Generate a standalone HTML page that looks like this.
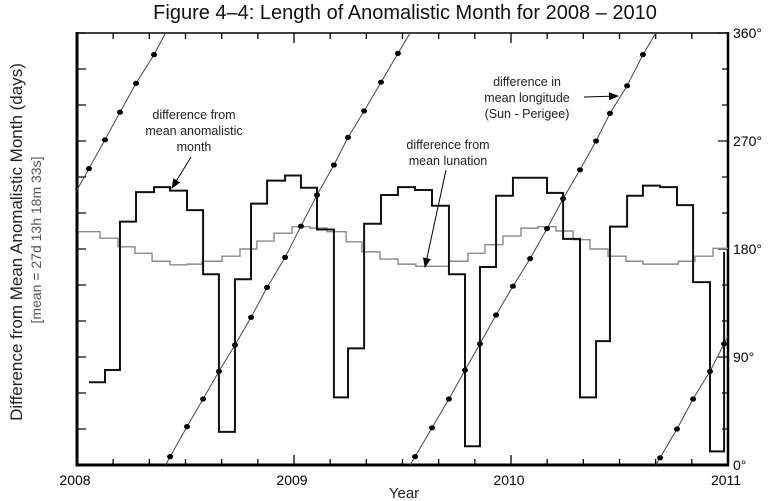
<!DOCTYPE html>
<html><head><meta charset="utf-8"><style>
html,body{margin:0;padding:0;background:#fff;}
svg{display:block;font-family:"Liberation Sans",Arial,sans-serif;}
</style></head><body>
<svg id="chart" width="768" height="501" viewBox="0 0 768 501" xmlns="http://www.w3.org/2000/svg">
<defs><marker id="ah" markerWidth="10" markerHeight="8" refX="9" refY="4" orient="auto" markerUnits="userSpaceOnUse"><path d="M0,0 L10,4 L0,8 Z" fill="#000"/></marker></defs>
<text x="405" y="19" font-size="20" text-anchor="middle" fill="#111">Figure 4–4: Length of  Anomalistic Month for 2008 – 2010</text>
<text transform="translate(22,242) rotate(-90)" font-size="17" text-anchor="middle" fill="#222">Difference from Mean Anomalistic Month (days)</text>
<text transform="translate(41,240) rotate(-90)" font-size="14" text-anchor="middle" fill="#555">[mean = 27d 13h 18m 33s]</text>
<text x="404" y="498" font-size="15" text-anchor="middle" fill="#222">Year</text>
<g id="axes"></g>
<g id="series"></g>
<g font-size="12.5" fill="#222" text-anchor="middle">
<text x="194" y="119">difference from<tspan x="194" dy="16">mean anomalistic</tspan><tspan x="194" dy="16">month</tspan></text>
<line x1="191" y1="157" x2="172" y2="188" stroke="#000" stroke-width="1" marker-end="url(#ah)"/>
<text x="448" y="149">difference from<tspan x="448" dy="16">mean lunation</tspan></text>
<line x1="446" y1="170" x2="425" y2="267" stroke="#000" stroke-width="1" marker-end="url(#ah)"/>
<text x="527" y="86">difference in<tspan x="527" dy="16">mean longitude</tspan><tspan x="527" dy="16">(Sun - Perigee)</tspan></text>
<line x1="584" y1="97" x2="618" y2="96" stroke="#000" stroke-width="1" marker-end="url(#ah)"/>
</g>
</svg>
<script>
const yearTicks = [2008, 2009, 2010, 2011];
const degTicks = ["0°", "90°", "180°", "270°", "360°"];
// black step series: difference from mean anomalistic month (days)
const anomEdges = [2008.055,2008.129,2008.198,2008.272,2008.355,2008.429,2008.507,2008.581,2008.654,2008.728,2008.802,2008.876,2008.959,2009.032,2009.106,2009.184,2009.249,2009.323,2009.401,2009.479,2009.558,2009.636,2009.714,2009.788,2009.857,2009.931,2010.009,2010.088,2010.166,2010.240,2010.318,2010.392,2010.456,2010.535,2010.608,2010.687,2010.765,2010.839,2010.917,2010.982];
const anomValues = [-1.85,-1.68,0.38,0.79,0.86,0.81,0.54,-0.35,-2.54,-0.42,0.63,0.95,1.02,0.85,0.27,-2.06,-1.38,0.35,0.75,0.86,0.82,0.60,-0.35,-2.74,-0.25,0.74,0.99,0.99,0.78,0.14,-2.06,-1.28,0.31,0.74,0.88,0.86,0.61,-0.46,-2.81];
const anomEndValue = -0.04;
// gray step series: difference from mean lunation (days)
const lunEdges = [2008.005,2008.106,2008.189,2008.267,2008.346,2008.429,2008.507,2008.576,2008.668,2008.751,2008.829,2008.908,2008.991,2009.074,2009.152,2009.240,2009.313,2009.396,2009.479,2009.562,2009.641,2009.714,2009.802,2009.880,2009.963,2010.046,2010.124,2010.207,2010.286,2010.364,2010.447,2010.530,2010.608,2010.687,2010.770,2010.848,2010.931,2011.0];
const lunValues = [0.24,0.15,0.03,-0.06,-0.17,-0.22,-0.21,-0.17,-0.10,0.0,0.11,0.22,0.31,0.29,0.24,0.10,-0.04,-0.14,-0.21,-0.24,-0.24,-0.17,-0.06,0.06,0.18,0.29,0.31,0.25,0.13,0.0,-0.10,-0.17,-0.21,-0.21,-0.17,-0.10,0.01];
// longitude difference (Sun - Perigee), degrees, sampled at anomEdges
const lonValues = [247,271,294,318,342,7,32,55,78,100,123,148,173,199,225,250,273,295,319,343,7,31,55,79,101,125,149,172,197,222,246,270,293,316,342,6,30,55,78,101];

const L=77,R=728,T=33,B=465;
const X=t=>L+(t-2008)/3*(R-L);
const Y=d=>B-(d+3)/6*(B-T);
const A=a=>B-a/360*(B-T);
const NS="http://www.w3.org/2000/svg";
function mk(tag,attrs,parent){const e=document.createElementNS(NS,tag);for(const k in attrs)e.setAttribute(k,attrs[k]);parent.appendChild(e);return e;}
const axes=document.getElementById('axes'), ser=document.getElementById('series');

for(let m=0;m<=36;m+=2){const x=X(2008+m/12);const len=(m%12===0)?10:6;
 const t1=mk('line',{x1:x,y1:B,x2:x,y2:B-len,stroke:'#000','stroke-width':1.3},axes);
 
 const t2=mk('line',{x1:x,y1:T,x2:x,y2:T+len,stroke:'#000','stroke-width':1.3},axes);
 }
for(let i=0;i<=12;i++){const y=Y(-3+i*0.5);
 const t=mk('line',{x1:L,y1:y,x2:L+9,y2:y,stroke:'#000','stroke-width':1.2},axes);
 }
for(let a=0;a<=360;a+=30){const y=A(a);const len=(a%90===0)?10:6;
 const t=mk('line',{x1:R,y1:y,x2:R-len,y2:y,stroke:'#000','stroke-width':1.2},axes);
 }
yearTicks.forEach(yr=>{const t=mk('text',{x:X(yr)-2,y:B+20,'font-size':14,'text-anchor':'middle',fill:'#000'},axes);t.textContent=yr;
 });
degTicks.forEach((s,i)=>{const t=mk('text',{x:R+5,y:A(i*90)+5,'font-size':14,fill:'#000'},axes);t.textContent=s;
 });

let d='';lunValues.forEach((v,i)=>{const x1=X(lunEdges[i]),x2=X(lunEdges[i+1]),y=Y(v);d+=(i?'L':'M')+x1+','+y+'L'+x2+','+y;});
const lp=mk('path',{d:d,fill:'none',stroke:'#8a8a8a','stroke-width':1.4},ser);


let ld='';
const first=(anomEdges[0]-2008), slope0=(lonValues[1]-lonValues[0])/(anomEdges[1]-anomEdges[0]);
ld+='M'+X(2008)+','+A(lonValues[0]-slope0*first);
for(let i=0;i<lonValues.length;i++){
 const t=anomEdges[i],a=lonValues[i];
 if(i>0&&a<lonValues[i-1]){const t0=anomEdges[i-1],a0=lonValues[i-1],a1=a+360;
  const tw=t0+(360-a0)/(a1-a0)*(t-t0);ld+='L'+X(tw)+','+A(360)+'M'+X(tw)+','+A(0);}
 ld+='L'+X(t)+','+A(a);}
const n=lonValues.length,sl=(lonValues[n-1]-lonValues[n-2])/(anomEdges[n-1]-anomEdges[n-2]);
ld+='L'+X(2011)+','+A(lonValues[n-1]+sl*(2011-anomEdges[n-1]));
const lo=mk('path',{d:ld,fill:'none',stroke:'#444','stroke-width':1},ser);

lonValues.forEach((a,i)=>{const c=mk('ellipse',{cx:X(anomEdges[i]),cy:A(a),rx:3,ry:2.6,fill:'#000'},ser);
 });

d='';anomValues.forEach((v,i)=>{const x1=X(anomEdges[i]),x2=X(anomEdges[i+1]),y=Y(v);d+=(i?'L':'M')+x1+','+y+'L'+x2+','+y;});
d+='L'+X(anomEdges[anomEdges.length-1])+','+Y(anomEndValue);
const ap=mk('path',{d:d,fill:'none',stroke:'#111','stroke-width':2},ser);


const f1=mk('line',{x1:L,y1:T,x2:R,y2:T,stroke:'#000','stroke-width':1.5},axes);

const f2=mk('line',{x1:L,y1:T-1,x2:L,y2:B+1.5,stroke:'#000','stroke-width':3},axes);

const f3=mk('line',{x1:L,y1:B,x2:R+1,y2:B,stroke:'#000','stroke-width':3},axes);

const f4=mk('line',{x1:R,y1:T-1,x2:R,y2:B+1.5,stroke:'#000','stroke-width':2.5},axes);

</script>
</body></html>
